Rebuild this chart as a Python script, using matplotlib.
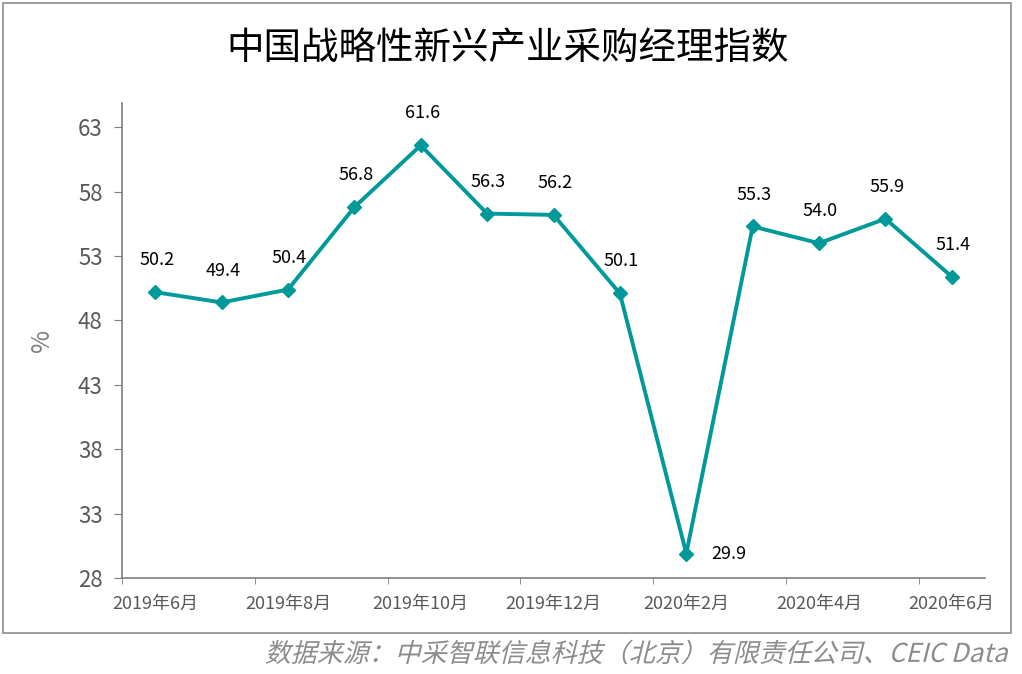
import matplotlib.pyplot as plt
from matplotlib.patches import Rectangle, PathPatch
from matplotlib.textpath import TextPath
from matplotlib.font_manager import FontProperties
from matplotlib.transforms import Affine2D

plt.rcParams['font.family'] = ['Noto Sans CJK SC', 'DejaVu Sans']

# data
months = ['2019年6月', '2019年7月', '2019年8月', '2019年9月', '2019年10月', '2019年11月',
          '2019年12月', '2020年1月', '2020年2月', '2020年3月', '2020年4月', '2020年5月', '2020年6月']
pmi = [50.2, 49.4, 50.4, 56.8, 61.6, 56.3, 56.2, 50.1, 29.9, 55.3, 54.0, 55.9, 51.4]
y_ticks = [28, 33, 38, 43, 48, 53, 58, 63]
source = '数据来源：中采智联信息科技（北京）有限责任公司、CEIC Data'

teal = '#00999A'
grey = '#7f7f7f'

fig = plt.figure(figsize=(10.22, 6.74), dpi=100)
ax = fig.add_axes([0.1194, 0.1424, 0.8444, 0.705])

x = list(range(len(pmi)))
ax.plot(x, pmi, color=teal, lw=2.8, marker='D', ms=7, zorder=3)

for i, v in enumerate(pmi):
    if v < 35:
        ax.annotate(f'{v:.1f}', (i, v), xytext=(18, 0), textcoords='offset points',
                    ha='left', va='center', fontsize=13, color='black')
    else:
        ax.annotate(f'{v:.1f}', (i, v), xytext=(1, 23), textcoords='offset points',
                    ha='center', va='center', fontsize=13, color='black')

ax.set_xlim(-0.5, len(pmi) - 0.5)
ax.set_ylim(28, 64.9)
ax.set_yticks(y_ticks)
ax.set_yticklabels([str(t) for t in y_ticks], fontsize=16, color='#595959')
ax.set_xticks(x[::2])
ax.set_xticklabels(months[::2], fontsize=13, color='#595959')
ax.set_xticks([i - 0.5 for i in range(0, len(pmi), 2)], minor=True)
ax.tick_params(axis='x', which='major', length=0, pad=12)
ax.tick_params(axis='x', which='minor', length=4, color=grey)
ax.tick_params(axis='y', length=6, color=grey, pad=8)

ax.set_ylabel('%', fontsize=18, color=grey, labelpad=16)

for s in ['top', 'right']:
    ax.spines[s].set_visible(False)
for s in ['left', 'bottom']:
    ax.spines[s].set_color(grey)
    ax.spines[s].set_linewidth(1.2)

fig.text(0.497, 0.928, '中国战略性新兴产业采购经理指数', ha='center', va='center',
         fontsize=27, color='black')

# outer frame
fig.patches.append(Rectangle((0.003, 0.061), 0.986, 0.934, transform=fig.transFigure,
                             fill=False, edgecolor='#8c8c8c', lw=1.2))

# slanted source note (CJK font has no italic face)
tp = TextPath((0, 0), source, size=26, prop=FontProperties(family='Noto Sans CJK SC'))
bb = tp.get_extents()
tr = Affine2D().translate(-bb.x1, -(bb.y0 + bb.y1) / 2).skew_deg(14, 0).translate(1008, 674 - 652)
fig.patches.append(PathPatch(tp, transform=tr, facecolor='#8c8c8c', edgecolor='none'))

fig.savefig('out.png', dpi=100)
